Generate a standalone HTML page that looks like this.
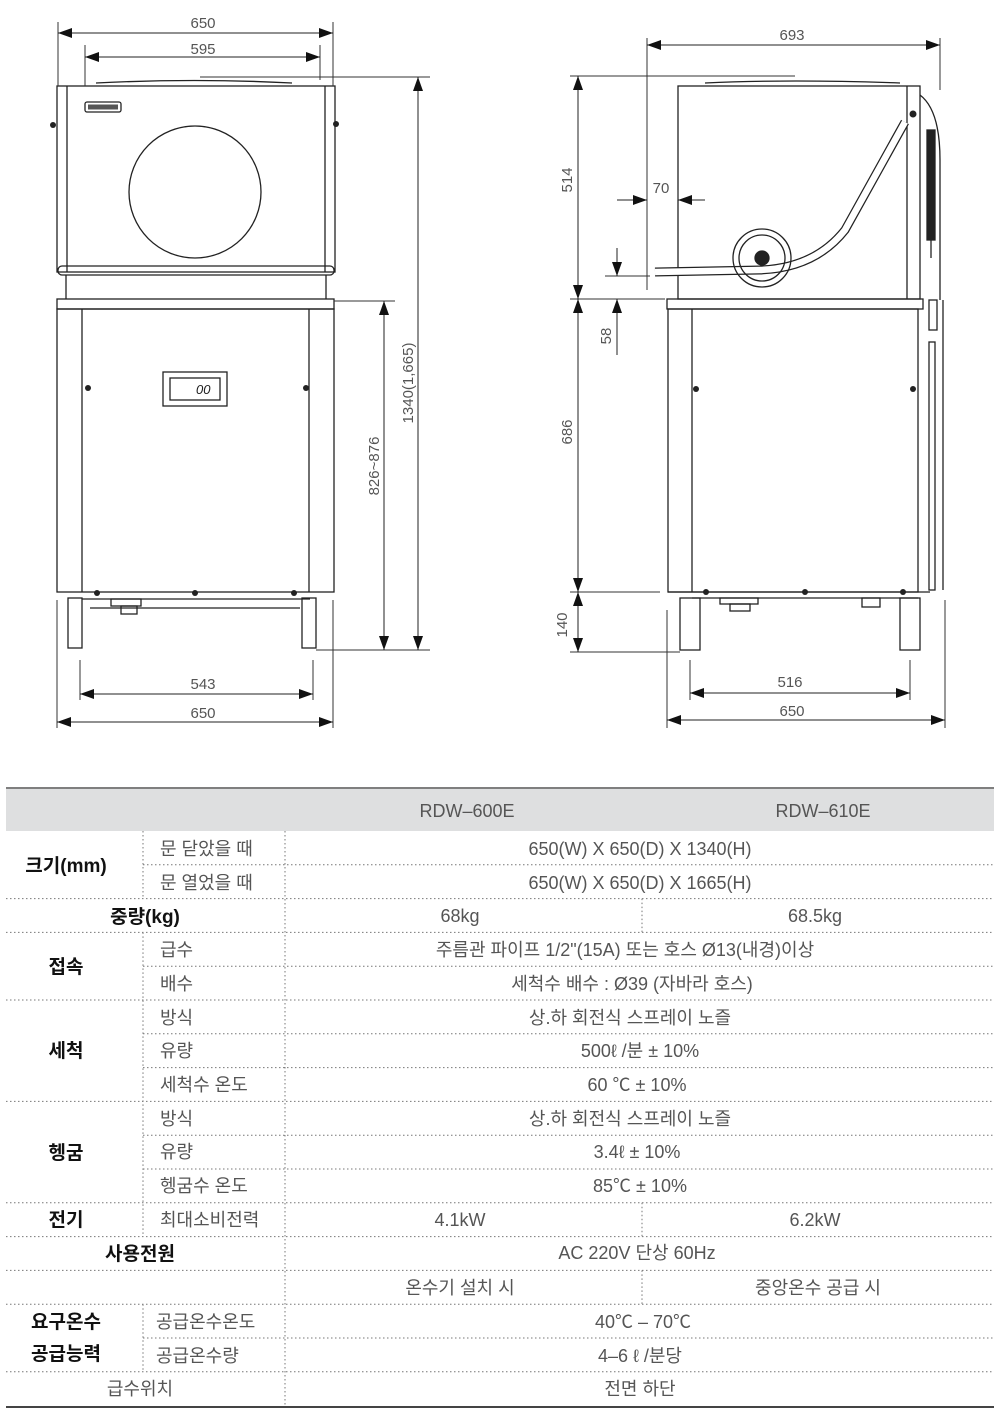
<!DOCTYPE html>
<html><head><meta charset="utf-8"><style>
html,body{margin:0;padding:0;background:#fff;}
svg{display:block;}
text{font-family:"Liberation Sans","Noto Sans CJK KR",sans-serif;}
.d{font-size:15px;fill:#555;}
.t{font-size:18px;fill:#555;}
.b{font-size:19px;fill:#111;font-weight:bold;}
</style></head><body>
<svg width="1000" height="1422" viewBox="0 0 1000 1422" xmlns="http://www.w3.org/2000/svg">
<defs>
<marker id="a" viewBox="0 0 14 10" refX="14" refY="5" markerWidth="14" markerHeight="10" markerUnits="userSpaceOnUse" orient="auto-start-reverse"><path d="M0,0 L14,5 L0,10 z" fill="#111"/></marker>
</defs>
<g stroke="#222" fill="none" stroke-width="1.3">
<!-- FRONT VIEW -->
<path d="M96,83 Q195,78 292,83"/>
<rect x="57" y="86" width="278" height="186"/>
<line x1="67" y1="86" x2="67" y2="272"/><line x1="325" y1="86" x2="325" y2="272"/>
<rect x="85" y="102" width="36" height="10" rx="2"/>
<rect x="88" y="104.5" width="30" height="5" fill="#555" stroke="none"/>
<circle cx="195" cy="192" r="66"/>
<rect x="58" y="266" width="276" height="9" rx="4"/>
<line x1="66" y1="275" x2="66" y2="299"/><line x1="326" y1="275" x2="326" y2="299"/>
<rect x="57" y="299" width="277" height="10"/>
<rect x="57" y="309" width="277" height="283"/>
<line x1="82" y1="309" x2="82" y2="592"/><line x1="309" y1="309" x2="309" y2="592"/>
<rect x="163" y="372" width="64" height="34"/><rect x="170" y="378" width="50" height="22"/>
<line x1="82" y1="599" x2="310" y2="599"/><line x1="90" y1="608" x2="300" y2="608"/>
<rect x="111" y="599" width="30" height="7"/><rect x="121" y="606" width="16" height="8"/>
<rect x="68" y="598" width="14" height="50"/><rect x="302" y="598" width="14" height="50"/>
<!-- SIDE VIEW -->
<path d="M705,83 Q790,79 900,83"/>
<rect x="678" y="86" width="242" height="213"/>
<line x1="907" y1="86" x2="907" y2="299"/>
<path d="M655,272 L760,270 Q815,268 845,230 L905,122" stroke-width="9" stroke="#222"/>
<path d="M655,272 L760,270 Q815,268 845,230 L905,122" stroke-width="6.5" stroke="#fff"/>
<circle cx="762" cy="258" r="29"/><circle cx="762" cy="258" r="23"/>
<circle cx="762" cy="258" r="7" fill="#222"/>
<path d="M920,95 Q940,110 940,160 L940,300"/>
<rect x="927" y="130" width="8" height="110" fill="#222"/>
<line x1="931" y1="240" x2="931" y2="258"/>
<rect x="667" y="299" width="256" height="10"/>
<rect x="668" y="309" width="250" height="283"/>
<line x1="692" y1="309" x2="692" y2="592"/>
<rect x="929" y="300" width="8" height="30"/><rect x="929" y="342" width="6" height="248"/>
<line x1="943" y1="300" x2="943" y2="590"/>
<line x1="668" y1="592" x2="930" y2="592"/><line x1="692" y1="598" x2="918" y2="598"/>
<rect x="720" y="598" width="38" height="6"/><rect x="730" y="604" width="20" height="7"/><rect x="862" y="598" width="18" height="9"/>
<rect x="680" y="598" width="20" height="52"/><rect x="900" y="598" width="20" height="52"/>
</g>
<g fill="#222">
<circle cx="53" cy="125" r="3"/><circle cx="336" cy="124" r="3"/>
<circle cx="88" cy="388" r="3"/><circle cx="306" cy="388" r="3"/>
<circle cx="97" cy="593" r="3"/><circle cx="195" cy="593" r="3"/><circle cx="294" cy="593" r="3"/>
<circle cx="696" cy="389" r="3"/><circle cx="913" cy="389" r="3"/>
<circle cx="706" cy="592" r="3"/><circle cx="805" cy="592" r="3"/><circle cx="903" cy="592" r="3"/>
<circle cx="913" cy="114" r="3.5"/>
</g>
<text x="196" y="394" font-size="13" fill="#222" font-style="italic">00</text>
<!-- dimension lines -->
<g stroke="#333" stroke-width="1" fill="none">
<line x1="58" y1="22" x2="58" y2="86"/><line x1="333" y1="22" x2="333" y2="86"/>
<line x1="85" y1="45" x2="85" y2="86"/><line x1="320" y1="45" x2="320" y2="80"/>
<line x1="200" y1="77" x2="430" y2="77"/>
<line x1="334" y1="301" x2="395" y2="301"/>
<line x1="316" y1="650" x2="430" y2="650"/>
<line x1="80" y1="660" x2="80" y2="700"/><line x1="313" y1="660" x2="313" y2="700"/>
<line x1="57" y1="600" x2="57" y2="728"/><line x1="333" y1="600" x2="333" y2="728"/>
<line x1="647" y1="38" x2="647" y2="290"/><line x1="940" y1="38" x2="940" y2="90"/>
<line x1="570" y1="76" x2="795" y2="76"/>
<line x1="570" y1="299" x2="665" y2="299"/>
<line x1="605" y1="276" x2="650" y2="276"/>
<line x1="570" y1="592" x2="660" y2="592"/>
<line x1="570" y1="652" x2="680" y2="652"/>
<line x1="678" y1="190" x2="678" y2="200"/>
<line x1="690" y1="660" x2="690" y2="700"/><line x1="910" y1="660" x2="910" y2="700"/>
<line x1="667" y1="610" x2="667" y2="728"/><line x1="945" y1="600" x2="945" y2="728"/>
</g>
<g stroke="#222" stroke-width="1" fill="none">
<line x1="58" y1="33" x2="333" y2="33" marker-start="url(#a)" marker-end="url(#a)"/>
<line x1="85" y1="57" x2="320" y2="57" marker-start="url(#a)" marker-end="url(#a)"/>
<line x1="418" y1="77" x2="418" y2="650" marker-start="url(#a)" marker-end="url(#a)"/>
<line x1="384" y1="301" x2="384" y2="650" marker-start="url(#a)" marker-end="url(#a)"/>
<line x1="80" y1="694" x2="313" y2="694" marker-start="url(#a)" marker-end="url(#a)"/>
<line x1="57" y1="722" x2="333" y2="722" marker-start="url(#a)" marker-end="url(#a)"/>
<line x1="647" y1="45" x2="940" y2="45" marker-start="url(#a)" marker-end="url(#a)"/>
<line x1="578" y1="76" x2="578" y2="299" marker-start="url(#a)" marker-end="url(#a)"/>
<line x1="578" y1="299" x2="578" y2="592" marker-start="url(#a)" marker-end="url(#a)"/>
<line x1="578" y1="592" x2="578" y2="652" marker-start="url(#a)" marker-end="url(#a)"/>
<line x1="617" y1="248" x2="617" y2="276" marker-end="url(#a)"/>
<line x1="617" y1="355" x2="617" y2="299" marker-end="url(#a)"/>
<line x1="617" y1="200" x2="647" y2="200" marker-end="url(#a)"/>
<line x1="705" y1="200" x2="678" y2="200" marker-end="url(#a)"/>
<line x1="690" y1="693" x2="910" y2="693" marker-start="url(#a)" marker-end="url(#a)"/>
<line x1="667" y1="720" x2="945" y2="720" marker-start="url(#a)" marker-end="url(#a)"/>
</g>
<g class="d" text-anchor="middle">
<text x="203" y="28">650</text><text x="203" y="54">595</text>
<text x="203" y="689">543</text><text x="203" y="718">650</text>
<text x="792" y="40">693</text><text x="661" y="193">70</text>
<text x="790" y="687">516</text><text x="792" y="716">650</text>
<text transform="translate(413,383) rotate(-90)">1340(1,665)</text>
<text transform="translate(379,466) rotate(-90)">826~876</text>
<text transform="translate(572,180) rotate(-90)">514</text>
<text transform="translate(611,336) rotate(-90)">58</text>
<text transform="translate(572,432) rotate(-90)">686</text>
<text transform="translate(567,625) rotate(-90)">140</text>
</g>
<!-- TABLE -->
<rect x="6" y="789" width="988" height="42" fill="#dedfe0"/>
<line x1="6" y1="788" x2="994" y2="788" stroke="#555" stroke-width="1.5"/>
<line x1="6" y1="1407" x2="994" y2="1407" stroke="#444" stroke-width="2"/>
<g stroke="#777" stroke-width="1" stroke-dasharray="1.5,2.5" fill="none">
<line x1="143" y1="864.8" x2="994" y2="864.8"/>
<line x1="6" y1="898.6" x2="994" y2="898.6"/>
<line x1="6" y1="932.4" x2="994" y2="932.4"/>
<line x1="143" y1="966.2" x2="994" y2="966.2"/>
<line x1="6" y1="1000" x2="994" y2="1000"/>
<line x1="143" y1="1033.8" x2="994" y2="1033.8"/>
<line x1="143" y1="1067.6" x2="994" y2="1067.6"/>
<line x1="6" y1="1101.4" x2="994" y2="1101.4"/>
<line x1="143" y1="1135.2" x2="994" y2="1135.2"/>
<line x1="143" y1="1169" x2="994" y2="1169"/>
<line x1="6" y1="1202.8" x2="994" y2="1202.8"/>
<line x1="6" y1="1236.6" x2="994" y2="1236.6"/>
<line x1="6" y1="1270.4" x2="994" y2="1270.4"/>
<line x1="6" y1="1304.2" x2="994" y2="1304.2"/>
<line x1="143" y1="1338" x2="994" y2="1338"/>
<line x1="6" y1="1371.8" x2="994" y2="1371.8"/>
<line x1="285" y1="831" x2="285" y2="1406"/>
<line x1="143" y1="831" x2="143" y2="898.6"/>
<line x1="143" y1="932.4" x2="143" y2="1236.6"/>
<line x1="143" y1="1304.2" x2="143" y2="1371.8"/>
<line x1="642" y1="898.6" x2="642" y2="932.4"/>
<line x1="642" y1="1202.8" x2="642" y2="1236.6"/>
<line x1="642" y1="1270.4" x2="642" y2="1304.2"/>
</g>
<g class="t" text-anchor="middle">
<text x="467" y="817">RDW–600E</text><text x="823" y="817">RDW–610E</text>
<text x="640" y="855">650(W) X 650(D) X 1340(H)</text>
<text x="640" y="889">650(W) X 650(D) X 1665(H)</text>
<text x="460" y="922">68kg</text><text x="815" y="922">68.5kg</text>
<text x="625" y="956">주름관 파이프 1/2"(15A) 또는 호스 Ø13(내경)이상</text>
<text x="632" y="990">세척수 배수 : Ø39 (자바라 호스)</text>
<text x="630" y="1024">상.하 회전식 스프레이 노즐</text>
<text x="640" y="1057">500ℓ /분 ± 10%</text>
<text x="637" y="1091">60 ℃ ± 10%</text>
<text x="630" y="1125">상.하 회전식 스프레이 노즐</text>
<text x="637" y="1158">3.4ℓ  ± 10%</text>
<text x="640" y="1192">85℃ ± 10%</text>
<text x="460" y="1226">4.1kW</text><text x="815" y="1226">6.2kW</text>
<text x="637" y="1259">AC 220V 단상 60Hz</text>
<text x="460" y="1294">온수기 설치 시</text><text x="818" y="1294">중앙온수 공급 시</text>
<text x="643" y="1328">40℃ – 70℃</text>
<text x="640" y="1362">4–6 ℓ /분당</text>
<text x="640" y="1395">전면 하단</text>
<text x="140" y="1395">급수위치</text>
</g>
<g class="t">
<text x="160" y="855">문 닫았을 때</text><text x="160" y="889">문 열었을 때</text>
<text x="160" y="956">급수</text><text x="160" y="990">배수</text>
<text x="160" y="1024">방식</text><text x="160" y="1057">유량</text><text x="160" y="1091">세척수 온도</text>
<text x="160" y="1125">방식</text><text x="160" y="1158">유량</text><text x="160" y="1192">헹굼수 온도</text>
<text x="160" y="1226">최대소비전력</text>
<text x="156" y="1328">공급온수온도</text><text x="156" y="1362">공급온수량</text>
</g>
<g class="b" text-anchor="middle">
<text x="66" y="872">크기(mm)</text>
<text x="145" y="923">중량(kg)</text>
<text x="66" y="973">접속</text>
<text x="66" y="1057">세척</text>
<text x="66" y="1159">헹굼</text>
<text x="66" y="1226">전기</text>
<text x="140" y="1260">사용전원</text>
<text x="66" y="1328">요구온수</text>
<text x="66" y="1360">공급능력</text>
</g>
</svg>
</body></html>
